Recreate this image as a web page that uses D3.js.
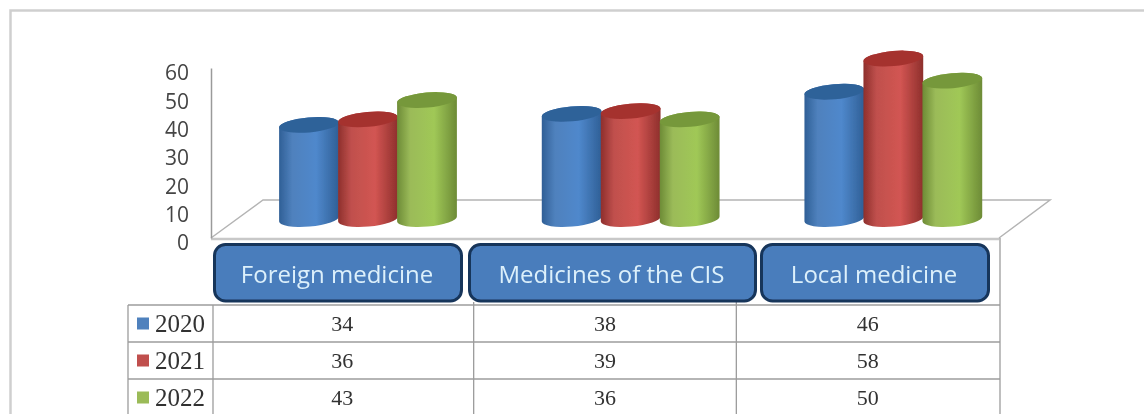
<!DOCTYPE html>
<html>
<head>
<meta charset="utf-8">
<script src="https://cdn.jsdelivr.net/npm/d3@7"></script>
<style>
  html, body { margin: 0; padding: 0; background: #fff; overflow: hidden; }
  svg { display: block; }
</style>
</head>
<body>
<div id="chart"></div>
<script>
var w = 1144
var h = 414

var categories = ["Foreign medicine", "Medicines of the CIS", "Local medicine"];
var years = ["2020", "2021", "2022"];
var values2020 = [34, 38, 46];
var values2021 = [36, 39, 58];
var values2022 = [43, 36, 50];
var yTicks = [0, 10, 20, 30, 40, 50, 60];

var series = [values2020, values2021, values2022];

//              Blue       Red        Green
var colors = ["#4f81bd", "#c0504d", "#9bbb59"];
var edges  = ["#2f5f96", "#8e2f2c", "#6d8b36"];
var lights = ["#4f88cc", "#d25552", "#a0c857"];
var tops   = ["#2f6299", "#a5322f", "#76983a"];

// header boxes are not even with the table columns
var boxEdges = [[213, 463], [468, 757], [760, 990]];

var svg = d3.select("#chart").append("svg")
    .attr("width", w)
    .attr("height", h);

var defs = svg.append("defs");

defs.append("filter")
    .attr("id", "soft")
    .attr("x", 0).attr("y", 0).attr("width", 1).attr("height", 1)
  .append("feGaussianBlur")
    .attr("stdDeviation", 0.7);

years.forEach(function(d, i) {
  var grad = defs.append("linearGradient").attr("id", "cyl" + i);
  grad.append("stop").attr("offset", "0%").attr("stop-color", edges[i]);
  grad.append("stop").attr("offset", "22%").attr("stop-color", colors[i]);
  grad.append("stop").attr("offset", "62%").attr("stop-color", lights[i]);
  grad.append("stop").attr("offset", "100%").attr("stop-color", edges[i]);
});

var root = svg.append("g").attr("filter", "url(#soft)");

root.append("rect")
    .attr("width", w)
    .attr("height", h)
    .attr("fill", "#fff");

// outer frame, only top and left are visible
root.append("path")
    .attr("d", "M10.5," + h + "V10.5H" + w)
    .attr("fill", "none")
    .attr("stroke", "#cfcfcf")
    .attr("stroke-width", 2.5);

var x = d3.scaleBand().domain(categories).range([211, 999]);
var inner = d3.scaleBand().domain(years).range([0, 177]);
var y = d3.scaleLinear().domain([0, 60]).range([238, 68]);
// cylinders stand further back on the floor, so they run on a shorter scale
var yBar = d3.scaleLinear().domain([0, 60]).range([219, 53]);
var rows = d3.scaleBand().domain(years).range([305, 416]);

// floor
var depthX = 51, depthY = 38;
var floorPts = [
  [x.range()[0], y(0)],
  [x.range()[0] + depthX + 1, y(0) - depthY],
  [x.range()[1] + depthX, y(0) - depthY],
  [x.range()[1], y(0)]
];
root.append("path")
    .attr("d", d3.line()(floorPts))
    .attr("fill", "#fff")
    .attr("stroke", "#b4b4b4")
    .attr("stroke-width", 1.5);

root.append("line")
    .attr("x1", x.range()[0]).attr("x2", x.range()[1])
    .attr("y1", y(0) + 1).attr("y2", y(0) + 1)
    .attr("stroke", "#c8c8c8")
    .attr("stroke-width", 2.5);

// y axis
var axis = root.append("g")
    .attr("transform", "translate(" + x.range()[0] + ",0)")
    .call(d3.axisLeft(y).tickValues(yTicks).tickSize(0).tickPadding(22).tickFormat(d3.format("d")));
axis.select(".domain")
    .attr("stroke", "#9a9a9a")
    .attr("stroke-width", 1.5);
axis.selectAll("text")
    .attr("dy", "0.56em")
    .style("font-family", "'Open Sans'")
    .style("font-size", "21px")
    .style("fill", "#454545");

// cylinders
var barW = 60, ry = 7.5, tilt = 5;
var cos = Math.cos(tilt * Math.PI / 180), sin = Math.sin(tilt * Math.PI / 180);

function cylinder(cx, top, base) {
  var rx = barW / 2;
  var arc = "A" + rx + "," + ry + " " + (-tilt) + " 0 0 ";
  return "M" + (cx - rx * cos) + "," + (top + rx * sin)
    + "L" + (cx - rx * cos) + "," + (base + rx * sin)
    + arc + (cx + rx * cos) + "," + (base - rx * sin)
    + "L" + (cx + rx * cos) + "," + (top - rx * sin)
    + arc + (cx - rx * cos) + "," + (top + rx * sin) + "Z";
}

var groups = root.selectAll(".group").data(categories).enter()
  .append("g")
    .attr("class", "group")
    .attr("transform", function(d) { return "translate(" + (x(d) + 68) + ",0)"; });

years.forEach(function(year, s) {
  var bars = groups.append("g")
      .datum(function(d, i) { return series[s][i]; });

  bars.append("path")
      .attr("fill", "url(#cyl" + s + ")")
      .attr("d", function(d) {
        return cylinder(inner(year) + barW / 2, yBar(d), yBar(0));
      });

  bars.append("ellipse")
      .attr("fill", tops[s])
      .attr("rx", barW / 2)
      .attr("ry", ry)
      .attr("transform", function(d) {
        return "translate(" + (inner(year) + barW / 2) + "," + yBar(d) + ") rotate(" + (-tilt) + ")";
      });
});

// table lines
var tableLeft = 128, tableTop = rows.range()[0];
var lineColor = "#9c9c9c";

rows.domain().forEach(function(d) {
  root.append("line")
      .attr("x1", tableLeft).attr("x2", x.range()[1] + 1)
      .attr("y1", rows(d)).attr("y2", rows(d))
      .attr("stroke", lineColor)
      .attr("stroke-width", 1.3);
});

var columnLines = [
  { x: tableLeft, top: tableTop },
  { x: x.range()[0] + 2, top: tableTop },
  { x: x(categories[1]), top: tableTop - 3 },
  { x: x(categories[2]), top: tableTop - 3 },
  { x: x.range()[1] + 1, top: y(0) }
];

root.selectAll(".vline").data(columnLines).enter()
  .append("line")
    .attr("class", "vline")
    .attr("x1", function(d) { return d.x; }).attr("x2", function(d) { return d.x; })
    .attr("y1", function(d) { return d.top; }).attr("y2", h)
    .attr("stroke", lineColor)
    .attr("stroke-width", 1.3);

// header boxes
var boxes = root.selectAll(".box").data(categories).enter()
  .append("g")
    .attr("class", "box");

boxes.append("rect")
    .attr("x", function(d, i) { return boxEdges[i][0] + 1.5; })
    .attr("width", function(d, i) { return boxEdges[i][1] - boxEdges[i][0] - 3; })
    .attr("y", 244.5)
    .attr("height", 56.5)
    .attr("rx", 11)
    .attr("fill", "#4a7dbc")
    .attr("stroke", "#17345a")
    .attr("stroke-width", 3);

boxes.append("text")
    .attr("x", function(d, i) { return (boxEdges[i][0] + boxEdges[i][1]) / 2 - 1; })
    .attr("y", 275)
    .attr("dy", ".35em")
    .attr("text-anchor", "middle")
    .style("font-family", "'Open Sans'")
    .style("font-size", "24px")
    .style("fill", "#dcf0fb")
    .text(function(d) { return d; });

// legend keys and year labels
root.selectAll(".key").data(years).enter()
  .append("rect")
    .attr("class", "key")
    .attr("x", 137)
    .attr("y", function(d) { return rows(d) + rows.bandwidth() / 2 - 6; })
    .attr("width", 12)
    .attr("height", 12)
    .attr("fill", function(d, i) { return colors[i]; });

root.selectAll(".year").data(years).enter()
  .append("text")
    .attr("class", "year")
    .attr("x", 155)
    .attr("y", function(d) { return rows(d) + rows.bandwidth() / 2; })
    .attr("dy", ".35em")
    .style("font-family", "'Liberation Serif'")
    .style("font-size", "25px")
    .style("fill", "#333")
    .text(function(d) { return d; });

// values
years.forEach(function(year, s) {
  root.selectAll(".val" + s).data(series[s]).enter()
    .append("text")
      .attr("class", "val" + s)
      .attr("x", function(d, i) { return x(categories[i]) + x.bandwidth() / 2; })
      .attr("y", rows(year) + rows.bandwidth() / 2)
      .attr("dy", ".35em")
      .attr("text-anchor", "middle")
      .style("font-family", "'Liberation Serif'")
      .style("font-size", "22px")
      .style("fill", "#333")
      .text(function(d) { return d; });
});
</script>
</body>
</html>
